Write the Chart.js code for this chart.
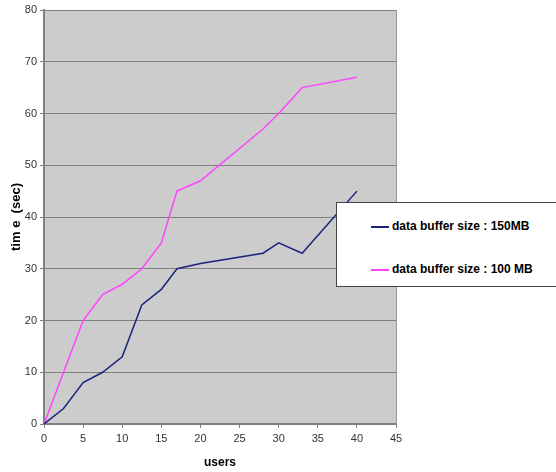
<!DOCTYPE html>
<html>
<head>
<meta charset="utf-8">
<script src="https://cdn.jsdelivr.net/npm/chart.js@4"></script>
<style>
  html, body { margin: 0; padding: 0; background: #fff; }
  #wrap { position: relative; width: 556px; height: 472px; }
  #legendBox {
    position: absolute; left: 336px; top: 202px; width: 230px; height: 85px;
    background: #fff; border: 1px solid #444; box-sizing: border-box;
    font: bold 12px "Liberation Sans", Arial, sans-serif; color: #000;
  }
  .item { position: absolute; left: 34px; height: 14px; line-height: 14px; white-space: nowrap; }
  .item span { display: inline-block; width: 18px; height: 2px; vertical-align: middle; margin-right: 3px; }
</style>
</head>
<body>
<div id="wrap">
  <canvas id="chart" width="556" height="472"></canvas>
  <div id="legendBox"></div>
</div>
<script>
// data
var seriesNames = ["data buffer size : 150MB", "data buffer size : 100 MB"];
var seriesColors = ["#1a237e", "#ff44ff"];
var usersBlue = [0, 2.5, 5, 7.5, 10, 12.5, 15, 17, 20, 28, 30, 33, 40];
var timeBlue = [0, 3, 8, 10, 13, 23, 26, 30, 31, 33, 35, 33, 45];
var usersPink = [0, 2.5, 5, 7.5, 10, 12.5, 15, 17, 20, 28, 30, 33, 40];
var timePink = [0, 10, 20, 25, 27, 30, 35, 45, 47, 57, 60, 65, 67];

function toPoints(xs, ys) {
  return xs.map(function(x, i) { return { x: x, y: ys[i] }; });
}

// gray plot background + right border
var plotBg = {
  id: "plotBg",
  beforeDraw: function(chart) {
    var a = chart.chartArea, ctx = chart.ctx;
    ctx.save();
    ctx.fillStyle = "#cccccc";
    ctx.fillRect(a.left, a.top, a.right - a.left, a.bottom - a.top);
    ctx.restore();
  },
  afterDatasetsDraw: function(chart) {
    var a = chart.chartArea, ctx = chart.ctx;
    ctx.save();
    ctx.strokeStyle = "#999";
    ctx.lineWidth = 1;
    ctx.beginPath();
    ctx.moveTo(a.right + 0.5, a.top);
    ctx.lineTo(a.right + 0.5, a.bottom);
    ctx.stroke();
    ctx.restore();
  }
};

var tickFont = { family: "'Liberation Sans', Arial, sans-serif", size: 11 };
var titleFont = { family: "'Liberation Sans', Arial, sans-serif", size: 12, weight: "bold" };

new Chart(document.getElementById("chart").getContext("2d"), {
  type: "line",
  data: {
    datasets: [
      { label: seriesNames[0], data: toPoints(usersBlue, timeBlue), borderColor: seriesColors[0], borderWidth: 1.5, pointRadius: 0, fill: false, tension: 0 },
      { label: seriesNames[1], data: toPoints(usersPink, timePink), borderColor: seriesColors[1], borderWidth: 1.5, pointRadius: 0, fill: false, tension: 0 }
    ]
  },
  options: {
    responsive: false,
    animation: false,
    layout: { padding: { top: 10, right: 160, left: 0, bottom: 0 } },
    plugins: { legend: { display: false }, tooltip: { enabled: false } },
    scales: {
      x: {
        type: "linear", min: 0, max: 45,
        ticks: { stepSize: 5, color: "#333", font: tickFont, padding: 4, maxRotation: 0 },
        grid: { drawOnChartArea: false, drawTicks: true, tickLength: 4, color: "#808080" },
        border: { color: "#808080", width: 2 },
        title: { display: true, text: "users", color: "#000", font: titleFont, padding: { top: 4, bottom: 2 } },
        afterFit: function(s) { s.height = 48; }
      },
      y: {
        min: 0, max: 80,
        ticks: { stepSize: 10, color: "#333", font: tickFont, padding: 3 },
        grid: { color: "#808080", lineWidth: 1, tickLength: 4 },
        border: { color: "#808080", width: 2 },
        title: { display: true, text: "tim e  (sec)", color: "#000", font: { family: "'Liberation Sans', Arial, sans-serif", size: 13, weight: "bold" }, padding: { top: 9, bottom: 0 } },
        afterFit: function(s) { s.width = 44; }
      }
    }
  },
  plugins: [plotBg]
});

// overlay legend box like the reference
var box = document.getElementById("legendBox");
var tops = [16, 59];
seriesNames.forEach(function(name, i) {
  var d = document.createElement("div");
  d.className = "item";
  d.style.top = tops[i] + "px";
  d.innerHTML = '<span style="background:' + seriesColors[i] + '"></span>' + name;
  box.appendChild(d);
});
</script>
</body>
</html>
